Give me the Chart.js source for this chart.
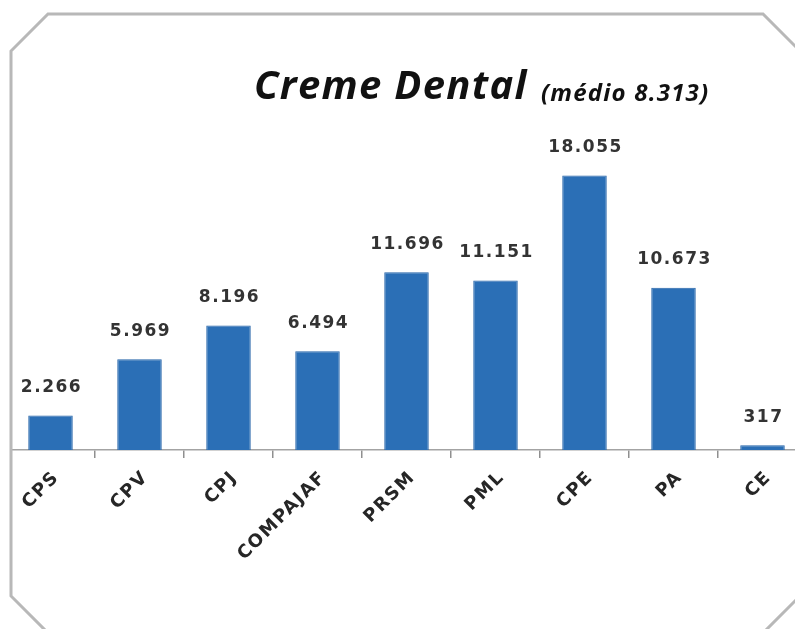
<!DOCTYPE html>
<html>
<head>
<meta charset="utf-8">
<script src="https://cdn.jsdelivr.net/npm/chart.js@4"></script>
<style>
    html, body { margin: 0; padding: 0; background: #fff; overflow: hidden; }
    #wrap { position: absolute; left: 0; top: 0; width: 820px; height: 629px; }
</style>
</head>
<body>
<div id="wrap"><canvas id="chart"></canvas></div>
<script>
const categories = ['CPS', 'CPV', 'CPJ', 'COMPAJAF', 'PRSM', 'PML', 'CPE', 'PA', 'CE'];
const values = [2266, 5969, 8196, 6494, 11696, 11151, 18055, 10673, 317];
const title_main = 'Creme Dental';
const title_sub = '(médio 8.313)';

const chartCanvas = document.getElementById('chart');

function formatNumber(n) {
    return n.toString().replace(/\B(?=(\d{3})+(?!\d))/g, '.');
}

// frame with cut corners + title, drawn on the canvas
const framePlugin = {
    id: 'frame',
    beforeDraw(chart) {
        chart.ctx.letterSpacing = '1.5px';
    },
    afterDraw(chart) {
        const ctx = chart.ctx;
        ctx.save();
        ctx.letterSpacing = '0px';
        ctx.fillStyle = '#fff';
        ctx.fillRect(0, 0, 10, 629);
        ctx.strokeStyle = '#b8b8b8';
        ctx.lineWidth = 3;
        ctx.beginPath();
        ctx.moveTo(48, 14);
        ctx.lineTo(763, 14);
        ctx.lineTo(802, 53);
        ctx.lineTo(802, 594);
        ctx.lineTo(756, 640);
        ctx.lineTo(55, 640);
        ctx.lineTo(11, 596);
        ctx.lineTo(11, 51);
        ctx.closePath();
        ctx.stroke();

        ctx.fillStyle = '#111';
        ctx.textBaseline = 'alphabetic';
        ctx.textAlign = 'left';
        ctx.font = 'italic bold 40px "Open Sans"';
        ctx.letterSpacing = '1.3px';
        ctx.fillText(title_main, 254, 99);
        ctx.font = 'italic bold 24px "Open Sans"';
        ctx.letterSpacing = '1.2px';
        ctx.fillText(title_sub, 541, 101);
        ctx.restore();
    }
};

const valueLabels = {
    id: 'valueLabels',
    afterDatasetsDraw(chart) {
        const ctx = chart.ctx;
        const meta = chart.getDatasetMeta(0);
        ctx.save();
        ctx.font = 'bold 17px "DejaVu Sans"';
        ctx.letterSpacing = '1.5px';
        ctx.fillStyle = '#333';
        ctx.textAlign = 'center';
        ctx.textBaseline = 'middle';
        meta.data.forEach((bar, i) => {
            ctx.fillText(formatNumber(values[i]), bar.x + 1, bar.y - 28);
        });
        ctx.restore();
    }
};

chart = new Chart(chartCanvas, {
    type: 'bar',
    data: {
        labels: categories,
        datasets: [{
            data: values,
            backgroundColor: '#2b6fb6',
            borderColor: '#2463a8',
            borderWidth: 1,
            barPercentage: 0.5,
            categoryPercentage: 1.0
        }]
    },
    options: {
        animation: false,
        responsive: true,
        maintainAspectRatio: false,
        layout: {
            padding: { left: 6, right: 13, top: 146, bottom: 9 }
        },
        scales: {
            x: {
                afterFit: scale => { scale.height = 170; },
                border: { display: true, color: '#a3a3a3', width: 1.5 },
                grid: {
                    display: true,
                    offset: true,
                    drawOnChartArea: false,
                    drawTicks: true,
                    tickLength: 8,
                    color: '#8f8f8f',
                    lineWidth: 1.5
                },
                ticks: {
                    minRotation: 45,
                    maxRotation: 45,
                    padding: 9,
                    labelOffset: 6,
                    color: '#262626',
                    font: { family: 'DejaVu Sans', size: 18, weight: 'bold' }
                }
            },
            y: {
                display: false,
                min: 0,
                max: 20000
            }
        },
        plugins: {
            legend: { display: false },
            tooltip: { enabled: false }
        }
    },
    plugins: [framePlugin, valueLabels]
});
</script>
</body>
</html>
